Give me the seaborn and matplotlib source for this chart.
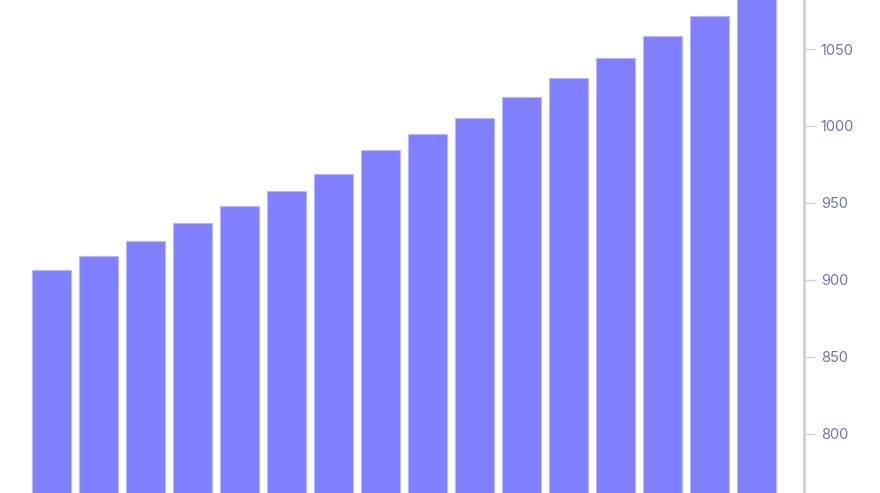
import matplotlib
matplotlib.use("Agg")
import matplotlib.pyplot as plt
import seaborn as sns
import pandas as pd

# values (bar 16 is clipped at the top)
periods = [str(i) for i in range(1, 17)]
values = [906.3, 915.4, 925.2, 936.9, 947.9, 957.7, 968.7, 984.3,
          994.7, 1005.1, 1018.8, 1031.1, 1044.1, 1058.5, 1071.5, 1090.0]
y_ticks = [800, 850, 900, 950, 1000, 1050]

df = pd.DataFrame({"period": periods, "value": values})

sns.set_style("white")
plt.rcParams["font.family"] = ["Inter", "DejaVu Sans"]

fig = plt.figure(figsize=(8.8, 4.93), dpi=100)
ax = fig.add_axes([0, 0, 804 / 880, 1])

sns.barplot(data=df, x="period", y="value", color="#8080ff", saturation=1,
            width=0.83, edgecolor="#b8b8ff", linewidth=0.8, ax=ax)

ax.set_xlim(-1.10, 16.01)
ax.set_ylim(761.4, 1081.9)
ax.set_yticks(y_ticks)
ax.yaxis.tick_right()
ax.tick_params(axis="y", colors="#d0d0d0", length=8, width=1, pad=4,
               labelcolor="#6a78a8", labelsize=10.5)
ax.tick_params(axis="x", bottom=False, labelbottom=False)
ax.set_xlabel("")
ax.set_ylabel("")
for side in ["left", "top", "bottom"]:
    ax.spines[side].set_visible(False)
ax.spines["right"].set_color("#d0d0d0")
ax.spines["right"].set_linewidth(2)

fig.savefig("out.png", dpi=100)
